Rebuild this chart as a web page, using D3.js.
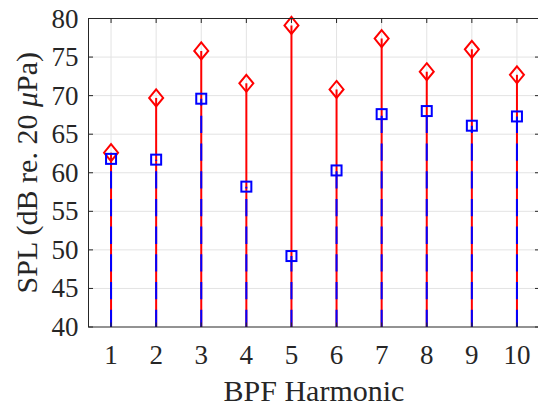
<!DOCTYPE html>
<html>
<head>
<meta charset="utf-8">
<script src="https://cdnjs.cloudflare.com/ajax/libs/d3/7.8.5/d3.min.js"></script>
<style>
  body { margin: 0; background: #fff; }
  svg text { font-family: 'Liberation Serif'; }
</style>
</head>
<body>
<div id="chart"></div>
<script>
// BPF harmonic numbers
var harmonics = [1, 2, 3, 4, 5, 6, 7, 8, 9, 10];
// red diamonds (solid stems)
var totalSPL = [62.6, 69.7, 75.8, 71.6, 79.1, 70.8, 77.4, 73.1, 76.0, 72.7];
// blue squares (dashed stems)
var tonalSPL = [61.8, 61.7, 69.6, 58.2, 49.2, 60.3, 67.6, 68.0, 66.1, 67.3];
var yTicks = [40, 45, 50, 55, 60, 65, 70, 75, 80];

var W = 538, H = 407;
var margin = {top: 18.5, right: 0, bottom: 80, left: 88.5};
var width = 451, height = 308.5;
var fontFam = "Liberation Serif";

var svg = d3.select("#chart").append("svg")
  .attr("width", W).attr("height", H);

var g = svg.append("g")
  .attr("transform", "translate(" + margin.left + "," + margin.top + ")");

var x = d3.scaleLinear().domain([0.5, 10.5]).range([0, width]);
var y = d3.scaleLinear().domain([40, 80]).range([height, 0]);

// grid
g.selectAll(".gy").data(yTicks.slice(1, -1)).enter().append("line")
  .attr("x1", 0).attr("x2", width)
  .attr("y1", function(d) { return y(d); }).attr("y2", function(d) { return y(d); })
  .attr("stroke", "#e3e3e3").attr("stroke-width", 1);
g.selectAll(".gx").data(harmonics).enter().append("line")
  .attr("x1", function(d) { return x(d); }).attr("x2", function(d) { return x(d); })
  .attr("y1", 0).attr("y2", height)
  .attr("stroke", "#e3e3e3").attr("stroke-width", 1);

// red stems
g.selectAll(".redStem").data(harmonics).enter().append("line")
  .attr("x1", function(d) { return x(d); }).attr("x2", function(d) { return x(d); })
  .attr("y1", height).attr("y2", function(d, i) { return y(totalSPL[i]); })
  .attr("stroke", "#ff0000").attr("stroke-width", 2);

// blue dashed stems, drawn upward from the baseline
g.selectAll(".blueStem").data(harmonics).enter().append("line")
  .attr("x1", function(d) { return x(d); }).attr("x2", function(d) { return x(d); })
  .attr("y1", height).attr("y2", function(d, i) { return y(tonalSPL[i]); })
  .attr("stroke", "#0000ff").attr("stroke-width", 2)
  .attr("stroke-dasharray", "17.3,10.4");

g.selectAll(".diamond").data(harmonics).enter().append("path")
  .attr("transform", function(d, i) { return "translate(" + x(d) + "," + y(totalSPL[i]) + ")"; })
  .attr("d", "M0,-8.5L7,0L0,8.5L-7,0Z")
  .attr("fill", "none").attr("stroke", "#ff0000").attr("stroke-width", 2);

g.selectAll(".square").data(harmonics).enter().append("rect")
  .attr("x", function(d) { return x(d) - 5; })
  .attr("y", function(d, i) { return y(tonalSPL[i]) - 5; })
  .attr("width", 10).attr("height", 10)
  .attr("fill", "none").attr("stroke", "#0000ff").attr("stroke-width", 2);

// axes box
var axisCol = "#262626";
g.append("rect").attr("x", 0).attr("y", 0).attr("width", width).attr("height", height)
  .attr("fill", "none").attr("stroke", axisCol).attr("stroke-width", 1);

// ticks (inward, on all four sides)
var tl = 4.5;
harmonics.forEach(function(d) {
  g.append("line").attr("x1", x(d)).attr("x2", x(d)).attr("y1", height).attr("y2", height - tl)
    .attr("stroke", axisCol);
  g.append("line").attr("x1", x(d)).attr("x2", x(d)).attr("y1", 0).attr("y2", tl)
    .attr("stroke", axisCol);
});
yTicks.forEach(function(d) {
  g.append("line").attr("x1", 0).attr("x2", tl).attr("y1", y(d)).attr("y2", y(d))
    .attr("stroke", axisCol);
  g.append("line").attr("x1", width).attr("x2", width - tl).attr("y1", y(d)).attr("y2", y(d))
    .attr("stroke", axisCol);
});

// tick labels
g.selectAll(".xl").data(harmonics).enter().append("text")
  .attr("x", function(d) { return x(d); }).attr("y", height + 37)
  .attr("text-anchor", "middle").attr("font-family", fontFam).attr("font-size", 27)
  .attr("fill", axisCol)
  .text(function(d) { return d; });
g.selectAll(".yl").data(yTicks).enter().append("text")
  .attr("x", -10).attr("y", function(d) { return y(d) + 9; })
  .attr("text-anchor", "end").attr("font-family", fontFam).attr("font-size", 27)
  .attr("fill", axisCol)
  .text(function(d) { return d; });

// axis labels
svg.append("text")
  .attr("x", margin.left + x(5.5)).attr("y", 401)
  .attr("text-anchor", "middle").attr("font-family", fontFam).attr("font-size", 30)
  .attr("fill", axisCol)
  .text("BPF Harmonic");

var yl = svg.append("text")
  .attr("transform", "translate(37," + (margin.top + height / 2) + ") rotate(-90)")
  .attr("text-anchor", "middle").attr("font-family", fontFam).attr("font-size", 30)
  .attr("fill", axisCol);
yl.append("tspan").text("SPL (dB re. 20 ");
yl.append("tspan").attr("font-style", "italic").text("\u03bc");
yl.append("tspan").text("Pa)");
</script>
</body>
</html>
